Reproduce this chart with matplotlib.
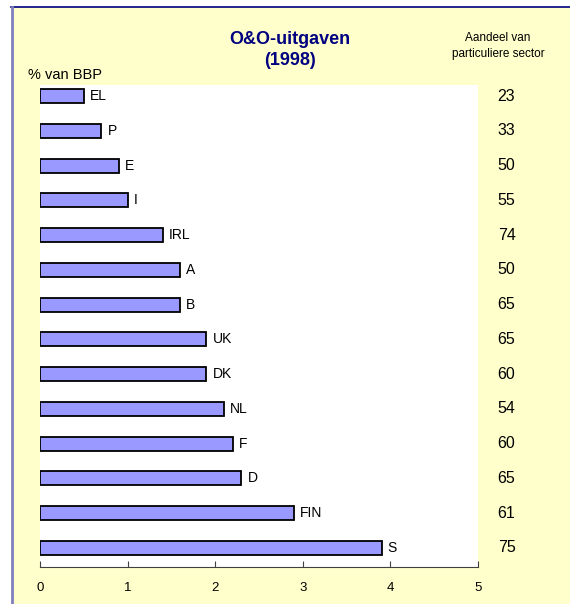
import matplotlib.pyplot as plt
import matplotlib.transforms as mtransforms
from matplotlib.patches import Rectangle
from matplotlib.lines import Line2D
import numpy as np

countries = ['EL', 'P', 'E', 'I', 'IRL', 'A', 'B', 'UK', 'DK', 'NL', 'F', 'D', 'FIN', 'S']
rd_pct_gdp = [0.5, 0.7, 0.9, 1.0, 1.4, 1.6, 1.6, 1.9, 1.9, 2.1, 2.2, 2.3, 2.9, 3.9]
private_share = [23, 33, 50, 55, 74, 50, 65, 65, 60, 54, 60, 65, 61, 75]
xticks = [0, 1, 2, 3, 4, 5]

narrow = ['Liberation Sans Narrow', 'Liberation Sans', 'DejaVu Sans']
plt.rcParams['font.family'] = ['Liberation Sans', 'DejaVu Sans']

fig = plt.figure(figsize=(5.7, 6.04), dpi=100)
fig.patch.set_facecolor('white')

# yellow panel with border lines
fig.patches.append(Rectangle((11 / 570, 0), 1, (604 - 7) / 604, transform=fig.transFigure,
                             facecolor='#FFFFCC', edgecolor='none', zorder=-5))
fig.lines.append(Line2D([11 / 570, 1], [1 - 7 / 604, 1 - 7 / 604], transform=fig.transFigure,
                        color='#000080', lw=1.2, zorder=-4))
fig.lines.append(Line2D([12 / 570, 12 / 570], [0, 1 - 7 / 604], transform=fig.transFigure,
                        color='#8080C0', lw=2, zorder=-4))

ax = fig.add_axes([40 / 570, 37 / 604, 438 / 570, 482 / 604])
ax.set_zorder(2)
ax.set_facecolor('white')

y = np.arange(len(countries))
ax.barh(y, rd_pct_gdp, height=0.4, color='#9999FF', edgecolor='black', linewidth=1.3)
for yi, v, c in zip(y, rd_pct_gdp, countries):
    ax.text(v + 0.07, yi, c, va='center', ha='left', fontsize=10)

ax.set_xlim(0, 5)
ax.set_ylim(13.55, -0.32)
ax.set_xticks(xticks)
ax.set_yticks([])
for s in ['top', 'right', 'left']:
    ax.spines[s].set_visible(False)
ax.spines['bottom'].set_color('#404040')
ax.tick_params(axis='x', direction='in', length=4, color='#404040', labelsize=9.5, pad=11)

tr = mtransforms.blended_transform_factory(ax.transAxes, ax.transData)
for yi, s in zip(y, private_share):
    ax.text(1.045, yi, str(s), transform=tr, va='center', ha='left', fontsize=11.5,
            family=narrow, clip_on=False)

fig.text(290 / 570, 1 - 50 / 604, 'O&O-uitgaven\n(1998)', ha='center', va='center',
         fontsize=13, fontweight='bold', color='#000080', family=narrow, linespacing=1.25)
fig.text(498 / 570, 1 - 46 / 604, 'Aandeel van\nparticuliere sector', ha='center', va='center',
         fontsize=8.5, family=narrow, linespacing=1.5)
fig.text(28 / 570, 1 - 75 / 604, '% van BBP', ha='left', va='center', fontsize=10.5, family=narrow)

fig.savefig('out.png', dpi=100)
